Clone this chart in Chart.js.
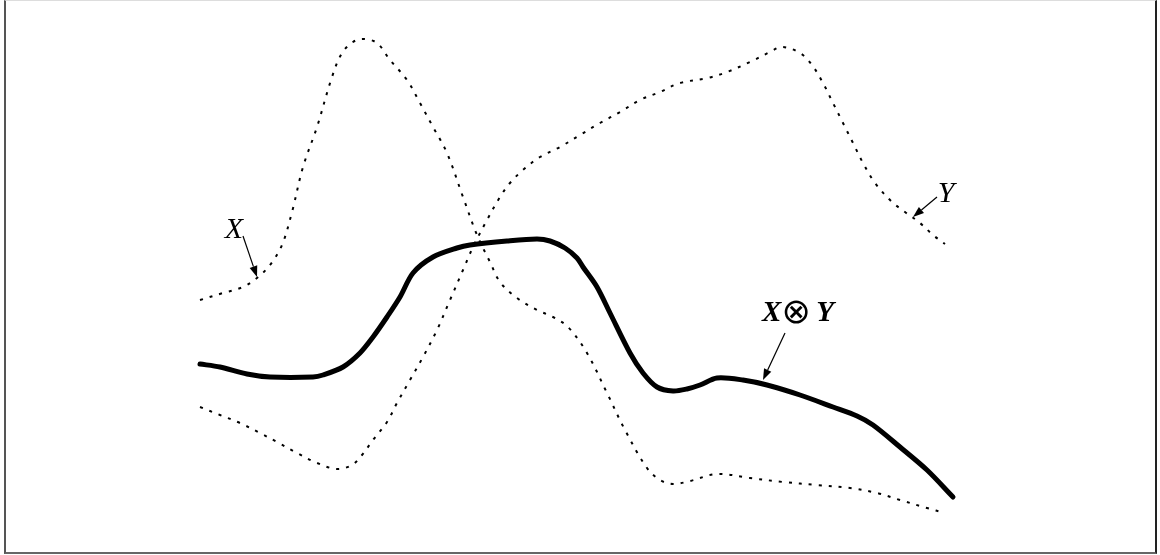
<!DOCTYPE html>
<html>
<head>
<meta charset="utf-8">
<script src="https://cdn.jsdelivr.net/npm/chart.js@4/dist/chart.umd.min.js"></script>
<style>
    html, body { margin: 0; padding: 0; background: #fff; }
    #wrap { position: relative; width: 1160px; height: 555px; }
    #frame {
        position: absolute; left: 4px; top: 0; width: 1149px; height: 551px;
        border-left: 2px solid #555; border-top: 1px solid #ddd;
        border-right: 2px solid #222; border-bottom: 2px solid #666;
        pointer-events: none;
    }
</style>
</head>
<body>
<div id="wrap">
    <canvas id="tensorChart" width="1160" height="555"></canvas>
    <div id="frame"></div>
</div>
<script>
// curve X (dotted)
const xCurveX = [0, 23, 43, 57, 70, 82, 92, 103, 117, 132, 142, 153, 163, 177, 190, 207, 220, 233, 247, 263, 277, 290, 300, 317, 337, 353, 368, 387, 407, 425, 447, 460, 473, 490, 517, 550, 583, 617, 650, 677, 700, 727, 745];
const xCurveY = [220, 227, 233, 242, 255, 275, 308, 353, 393, 443, 467, 478, 481, 477, 460, 440, 417, 393, 367, 323, 285, 258, 238, 222, 210, 203, 193, 167, 127, 90, 52, 40, 36, 39, 46, 42, 38, 35, 32, 27, 20, 12, 7];

// curve Y (dotted)
const yCurveX = [0, 20, 40, 60, 77, 97, 117, 137, 152, 162, 173, 187, 197, 210, 223, 237, 250, 263, 273, 287, 300, 310, 323, 340, 360, 380, 400, 420, 440, 460, 480, 508, 527, 550, 570, 582, 600, 612, 623, 633, 643, 653, 663, 675, 692, 705, 720, 733, 745];
const yCurveY = [113, 105, 97, 87, 78, 67, 57, 51, 55, 65, 80, 98, 117, 140, 163, 190, 220, 250, 273, 300, 323, 337, 350, 363, 373, 385, 397, 408, 420, 428, 437, 442, 448, 458, 468, 473, 467, 455, 437, 417, 397, 377, 357, 337, 318, 308, 297, 285, 276];

// product X ⊗ Y (thick)
const prodX = [0, 20, 47, 70, 113, 123, 143, 160, 173, 187, 200, 213, 233, 257, 270, 307, 337, 350, 365, 377, 383, 397, 410, 430, 443, 457, 473, 487, 500, 517, 543, 567, 600, 633, 657, 673, 700, 727, 753];
const prodY = [156, 153, 146, 143, 143, 145, 153, 167, 183, 203, 223, 247, 263, 272, 275, 279, 281, 279, 272, 262, 253, 233, 207, 167, 147, 133, 129, 131, 135, 142, 140, 135, 125, 113, 104, 95, 73, 50, 23];

const serif = '"Liberation Serif", "DejaVu Serif", serif';

// labels with arrow: text centre, arrow start, arrow tip (chart units)
const labels = [
    { parts: [['X', 'italic 30px ' + serif]], at: [34, 290], from: [43, 284], to: [57, 243] },
    { parts: [['Y', 'italic 30px ' + serif]], at: [746, 326], from: [737, 323], to: [713, 303] },
    { parts: [['X', 'bold italic 29px ' + serif], ['⊗', '35px "DejaVu Sans", sans-serif'], [' ', '22px ' + serif], ['Y', 'bold italic 29px ' + serif]],
      at: [598, 206], from: [585, 187], to: [563, 140] }
];

const toPoints = (xs, ys) => xs.map((x, i) => ({ x: x, y: ys[i] }));

const annotatePlugin = {
    id: 'annotate',
    afterDatasetsDraw(chart) {
        const ctx = chart.ctx;
        const sx = chart.scales.x;
        const sy = chart.scales.y;
        ctx.save();
        ctx.fillStyle = '#000';
        ctx.strokeStyle = '#000';
        labels.forEach(l => {
            ctx.textAlign = 'left';
            ctx.textBaseline = 'middle';
            let total = 0;
            l.parts.forEach(p => { ctx.font = p[1]; total += ctx.measureText(p[0]).width; });
            let px = sx.getPixelForValue(l.at[0]) - total / 2;
            const py = sy.getPixelForValue(l.at[1]);
            l.parts.forEach(p => {
                ctx.font = p[1];
                ctx.fillText(p[0], px, py);
                px += ctx.measureText(p[0]).width;
            });

            const x1 = sx.getPixelForValue(l.from[0]);
            const y1 = sy.getPixelForValue(l.from[1]);
            const x2 = sx.getPixelForValue(l.to[0]);
            const y2 = sy.getPixelForValue(l.to[1]);
            const ang = Math.atan2(y2 - y1, x2 - x1);
            const headLen = 11;
            const headW = 4;
            ctx.lineWidth = 1.2;
            ctx.beginPath();
            ctx.moveTo(x1, y1);
            ctx.lineTo(x2 - headLen * Math.cos(ang), y2 - headLen * Math.sin(ang));
            ctx.stroke();
            ctx.beginPath();
            ctx.moveTo(x2, y2);
            ctx.lineTo(x2 - headLen * Math.cos(ang) + headW * Math.sin(ang), y2 - headLen * Math.sin(ang) - headW * Math.cos(ang));
            ctx.lineTo(x2 - headLen * Math.cos(ang) - headW * Math.sin(ang), y2 - headLen * Math.sin(ang) + headW * Math.cos(ang));
            ctx.closePath();
            ctx.fill();
        });
        ctx.restore();
    }
};

const dotted = {
    borderColor: '#000',
    borderWidth: 2,
    borderDash: [3, 7],
    pointRadius: 0,
    tension: 0.35,
    fill: false
};

new Chart(document.getElementById('tensorChart'), {
    type: 'scatter',
    data: {
        datasets: [
            Object.assign({ label: 'X', data: toPoints(xCurveX, xCurveY), showLine: true }, dotted),
            Object.assign({ label: 'Y', data: toPoints(yCurveX, yCurveY), showLine: true }, dotted),
            {
                label: 'X ⊗ Y',
                data: toPoints(prodX, prodY),
                showLine: true,
                borderColor: '#000',
                borderWidth: 5,
                borderCapStyle: 'round',
                borderJoinStyle: 'round',
                pointRadius: 0,
                tension: 0.3,
                fill: false
            }
        ]
    },
    options: {
        responsive: false,
        animation: false,
        layout: { padding: 0 },
        scales: {
            x: { type: 'linear', min: -200, max: 960, display: false },
            y: { type: 'linear', min: -35, max: 520, display: false }
        },
        plugins: {
            legend: { display: false },
            tooltip: { enabled: false }
        }
    },
    plugins: [annotatePlugin]
});
</script>
</body>
</html>
